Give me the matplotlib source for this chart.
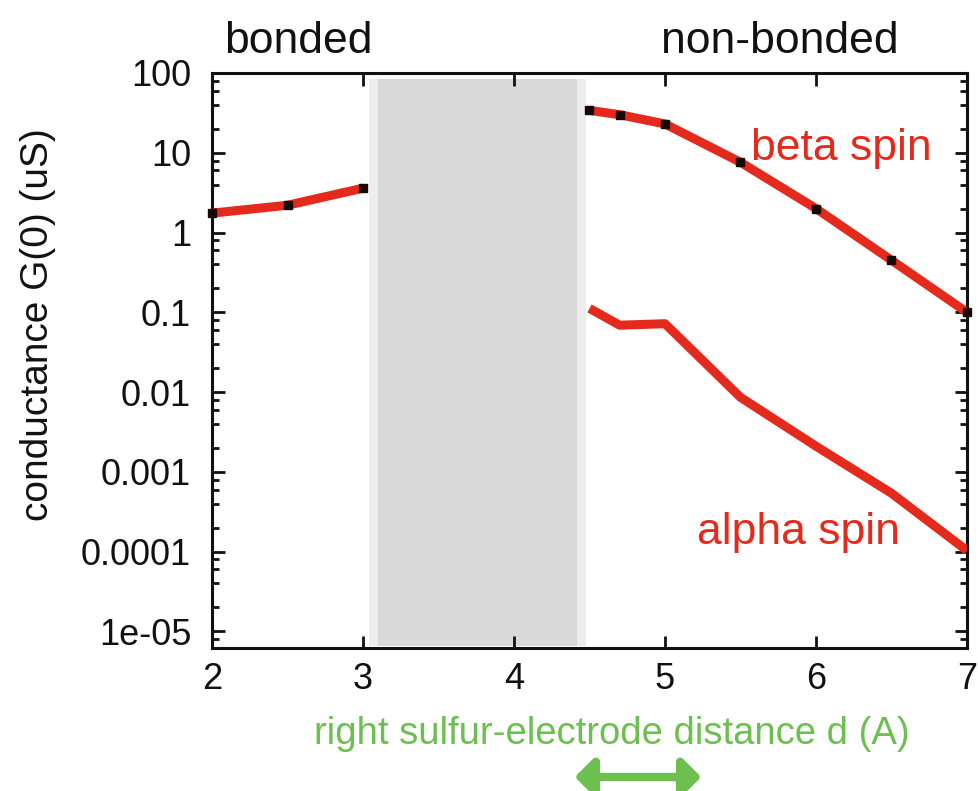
import matplotlib
matplotlib.use("Agg")
import matplotlib.pyplot as plt
from matplotlib.patches import FancyArrowPatch
from matplotlib.ticker import LogLocator, FixedLocator, NullFormatter

plt.rcParams["font.family"] = ["Liberation Sans", "DejaVu Sans"]

# conductance G(0) (uS) against right sulfur-electrode distance d (A)
bonded_d = [2.0, 2.5, 3.0]
bonded_g = [1.75, 2.2, 3.6]

nonbonded_d = [4.5, 4.7, 5.0, 5.5, 6.0, 6.5, 7.0]
beta_g = [34.0, 30.0, 23.0, 7.6, 2.0, 0.45, 0.1]
alpha_g = [0.112, 0.069, 0.072, 0.0086, 0.0021, 0.00054, 0.000103]

y_ticks = [100, 10, 1, 0.1, 0.01, 0.001, 0.0001, 1e-05]
y_tick_labels = ["100", "10", "1", "0.1", "0.01", "0.001", "0.0001", "1e-05"]
x_ticks = [2, 3, 4, 5, 6, 7]

W, H = 979, 791
RED = "#e42a1d"
GREEN = "#6dbf50"


def fx(px):
    return px / W


def fy(py):
    return 1 - py / H


fig = plt.figure(figsize=(W / 100, H / 100), dpi=100)
ax = fig.add_axes([fx(212), fy(648), fx(967) - fx(212), fy(73) - fy(648)])

# gap region that was not computed
ax.axvspan(3.04, 4.48, ymin=0.004, ymax=0.99, color="#ededed", lw=0, zorder=0)
ax.axvspan(3.10, 4.42, ymin=0.004, ymax=0.99, color="#d9d9d9", lw=0, zorder=0)

ax.plot(bonded_d, bonded_g, color=RED, lw=6.5, solid_capstyle="butt", zorder=3)
ax.plot(nonbonded_d, beta_g, color=RED, lw=6.5, solid_capstyle="butt", zorder=3)
ax.plot(nonbonded_d, alpha_g, color=RED, lw=6.5, solid_capstyle="butt", zorder=3)

ax.plot(bonded_d, bonded_g, "s", color="#1a0808", ms=5.5, zorder=4, clip_on=False)
ax.plot(nonbonded_d, beta_g, "s", color="#1a0808", ms=5.5, zorder=4, clip_on=False)

ax.set_yscale("log")
ax.set_xlim(2, 7)
ax.set_ylim(6.2e-6, 100)

ax.yaxis.set_major_locator(FixedLocator(y_ticks))
ax.set_yticklabels(y_tick_labels)
ax.yaxis.set_minor_locator(LogLocator(base=10, subs=[2, 4, 6, 8], numticks=20))
ax.yaxis.set_minor_formatter(NullFormatter())
ax.set_xticks(x_ticks)

ax.tick_params(which="both", direction="in", top=True, right=True,
               labelsize=26, colors="#111111", width=2)
ax.tick_params(which="major", length=9)
ax.tick_params(which="minor", length=5)
ax.tick_params(axis="y", which="major", pad=15)
ax.tick_params(axis="x", which="major", pad=10)
for spine in ax.spines.values():
    spine.set_linewidth(2.2)
    spine.set_color("#111111")

fig.text(fx(38), fy(325), "conductance G(0) (uS)", fontsize=28, rotation=90,
         ha="center", va="center", color="#111111")

fig.text(fx(298), fy(53), "bonded", fontsize=32, ha="center", va="baseline", color="#111111")
fig.text(fx(780), fy(53), "non-bonded", fontsize=32, ha="center", va="baseline", color="#111111")
fig.text(fx(841), fy(160), "beta spin", fontsize=32, ha="center", va="baseline", color=RED)
fig.text(fx(798), fy(544), "alpha spin", fontsize=32, ha="center", va="baseline", color=RED)

fig.text(fx(612), fy(744), "right sulfur-electrode distance d (A)", fontsize=27.5,
         ha="center", va="baseline", color=GREEN)

arrow = FancyArrowPatch((fx(572), fy(777)), (fx(704), fy(777)),
                        transform=fig.transFigure, arrowstyle="<|-|>,head_length=0.5,head_width=0.5",
                        mutation_scale=22, lw=6, color=GREEN)
fig.patches.append(arrow)

fig.savefig("out.png", dpi=100, facecolor="white")
